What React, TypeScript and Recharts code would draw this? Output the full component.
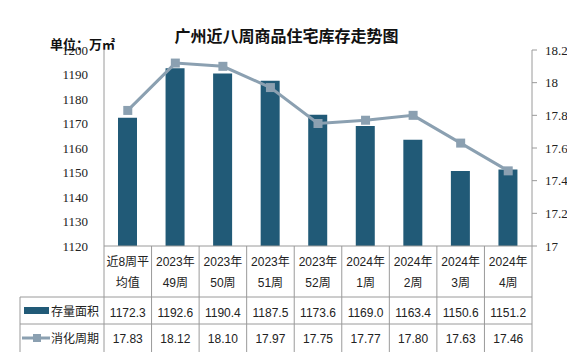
import React from 'react';
import { ComposedChart, Bar, Line, XAxis, YAxis } from 'recharts';

// 数据
const categories = ['近8周平\n均值', '2023年\n49周', '2023年\n50周', '2023年\n51周', '2023年\n52周', '2024年\n1周', '2024年\n2周', '2024年\n3周', '2024年\n4周'];
const stockArea = [1172.3, 1192.6, 1190.4, 1187.5, 1173.6, 1169.0, 1163.4, 1150.6, 1151.2];
const cycleWeeks = [17.83, 18.12, 18.1, 17.97, 17.75, 17.77, 17.8, 17.63, 17.46];
const leftTicks = [1120, 1130, 1140, 1150, 1160, 1170, 1180, 1190, 1200];
const rightTicks = [17, 17.2, 17.4, 17.6, 17.8, 18, 18.2];

const W = 567;
const H = 352;
const MARGIN = { top: 50, right: 0, bottom: 0, left: 0 };
const LEFT_AXIS_W = 104;
const RIGHT_AXIS_W = 35;
const PLOT_W = W - LEFT_AXIS_W - RIGHT_AXIS_W;
const CELL_W = PLOT_W / categories.length;
const TABLE_H = 106;

const BAR_COLOR = '#215a77';
const LINE_COLOR = '#8ba0b1';
const GRID = '#9a9a9a';
const TEXT_FONT = "'Liberation Sans', 'Noto Sans CJK SC', sans-serif";

const data = categories.map((c, i) => ({ cat: c, area: stockArea[i], cycle: cycleWeeks[i] }));

function TableTick(props: any) {
  const { x, y, payload } = props;
  const i = payload.index ?? props.index;
  const left = x - CELL_W / 2;
  const right = x + CELL_W / 2;
  const [l1, l2] = String(payload.value).split('\n');
  const row1 = y + 51;
  const row2 = y + 78;
  const txt = { fontFamily: TEXT_FONT, fontSize: 12, fill: '#222' };
  return (
    <g>
      <line x1={right} y1={y} x2={right} y2={y + TABLE_H} stroke={GRID} />
      <line x1={left} y1={row1} x2={right} y2={row1} stroke={GRID} />
      <line x1={left} y1={row2} x2={right} y2={row2} stroke={GRID} />
      <text x={x} y={y + 20} textAnchor="middle" {...txt}>{l1}</text>
      <text x={x} y={y + 41} textAnchor="middle" {...txt}>{l2}</text>
      <text x={x} y={y + 71} textAnchor="middle" {...txt}>{stockArea[i].toFixed(1)}</text>
      <text x={x} y={y + 97} textAnchor="middle" {...txt}>{cycleWeeks[i].toFixed(2)}</text>
      {i === 0 && (
        <g>
          <line x1={left} y1={y} x2={left} y2={y + TABLE_H} stroke={GRID} />
          <line x1={20} y1={row1} x2={left} y2={row1} stroke={GRID} />
          <line x1={20} y1={row2} x2={left} y2={row2} stroke={GRID} />
          <line x1={20} y1={row1} x2={20} y2={y + TABLE_H} stroke={GRID} />
          <rect x={24} y={row1 + 10} width={25} height={7} fill={BAR_COLOR} />
          <text x={51} y={y + 70} {...txt}>存量面积</text>
          <line x1={22} y1={row2 + 14} x2={50} y2={row2 + 14} stroke={LINE_COLOR} strokeWidth={3} />
          <rect x={33} y={row2 + 10} width={8} height={8} fill={LINE_COLOR} />
          <text x={51} y={y + 97} {...txt}>消化周期</text>
        </g>
      )}
    </g>
  );
}

function Square(props: any) {
  const { cx, cy } = props;
  if (cx == null || cy == null) return null;
  return <rect x={cx - 4.5} y={cy - 4.5} width={9} height={9} fill={LINE_COLOR} />;
}

export default function App() {
  return (
    <div style={{ position: 'absolute', left: 0, top: 0, width: W, height: H, background: '#fff' }}>
      <div
        style={{
          position: 'absolute',
          left: 0,
          width: W + 6,
          top: 25,
          textAlign: 'center',
          fontFamily: "'Noto Sans CJK SC', sans-serif",
          fontWeight: 'bold',
          fontSize: 16,
          lineHeight: '20px',
          color: '#111',
          zIndex: 2,
        }}
      >
        广州近八周商品住宅库存走势图
      </div>
      <div
        style={{
          position: 'absolute',
          left: 50,
          top: 35,
          fontFamily: "'Noto Sans CJK SC', sans-serif",
          fontWeight: 'bold',
          fontSize: 13,
          lineHeight: '17px',
          color: '#111',
          zIndex: 2,
        }}
      >
        单位：万㎡
      </div>
      <ComposedChart width={W} height={H} data={data} margin={MARGIN}>
        <XAxis
          dataKey="cat"
          interval={0}
          height={TABLE_H}
          tickLine={false}
          tickSize={0}
          tickMargin={0}
          axisLine={{ stroke: GRID }}
          tick={<TableTick />}
        />
        <YAxis
          yAxisId="left"
          orientation="left"
          width={LEFT_AXIS_W}
          domain={[1120, 1200]}
          ticks={leftTicks}
          tickLine={false}
          tickSize={8}
          tickMargin={8}
          axisLine={{ stroke: GRID }}
          tick={{ fill: '#222', fontSize: 13, fontFamily: "'Liberation Serif', serif" }}
        />
        <YAxis
          yAxisId="right"
          orientation="right"
          width={RIGHT_AXIS_W}
          domain={[17, 18.2]}
          ticks={rightTicks}
          tickSize={5}
          tickMargin={8}
          tickLine={{ stroke: GRID }}
          axisLine={{ stroke: GRID }}
          tick={{ fill: '#222', fontSize: 13, fontFamily: "'Liberation Serif', serif", textAnchor: 'start' }}
        />
        <Bar yAxisId="left" dataKey="area" fill={BAR_COLOR} barSize={19} isAnimationActive={false} />
        <Line
          yAxisId="right"
          dataKey="cycle"
          type="linear"
          stroke={LINE_COLOR}
          strokeWidth={3}
          dot={<Square />}
          activeDot={false}
          isAnimationActive={false}
        />
      </ComposedChart>
    </div>
  );
}
